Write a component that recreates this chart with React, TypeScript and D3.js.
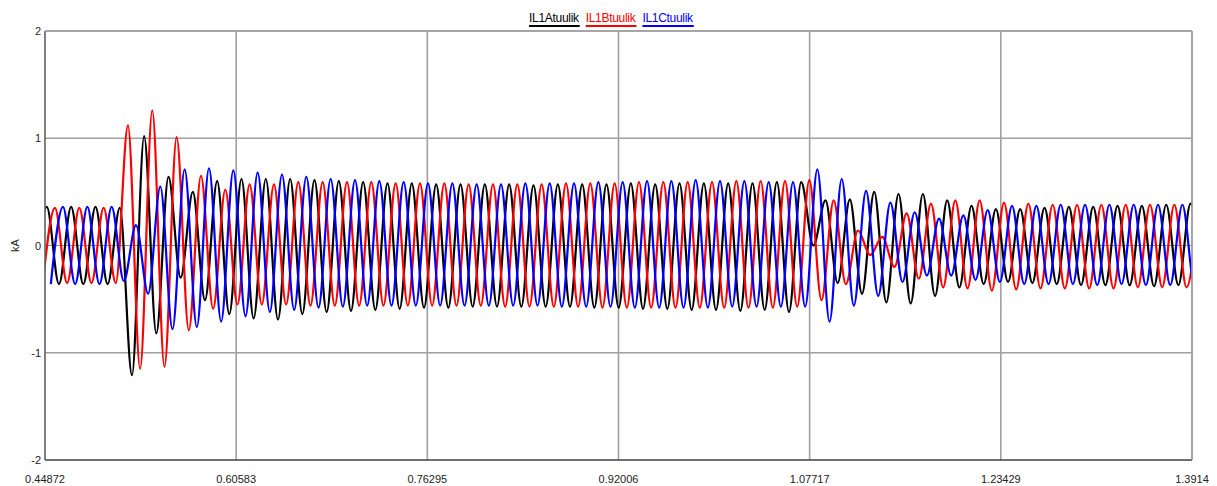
import * as React from 'react';
import * as d3 from 'd3';

// time axis ticks (s)
const X_TICKS = [0.44872, 0.60583, 0.76295, 0.92006, 1.07717, 1.23429, 1.3914];
const X_TICK_LABELS = ['0.44872', '0.60583', '0.76295', '0.92006', '1.07717', '1.23429', '1.3914'];
const Y_TICKS = [-2, -1, 0, 1, 2];
const Y_TICK_LABELS = ['-2', '-1', '0', '1', '2'];

const SERIES_NAMES = ['IL1Atuulik', 'IL1Btuulik', 'IL1Ctuulik'];
const SERIES_COLORS = ['#000000', '#ff0000', '#0000ff'];

// waveform extrema (kA), one value every half cycle (50 Hz), starting at START_TIMES
const HALF_PERIOD = 0.01;
const START_TIMES = [0.4402, 0.4469, 0.4535];

const phaseA = [-0.36,
    0.36, -0.36, 0.36, -0.36, 0.36, -0.36,
    0.35, -1.21, 1.02, -0.82, 0.64, -0.30,
    0.50, -0.51, 0.60, -0.64, 0.62, -0.68,
    0.62, -0.69, 0.62, -0.64, 0.61, -0.62,
    0.60, -0.61, 0.59, -0.60, 0.58, -0.59,
    0.58, -0.58, 0.57, -0.58, 0.57, -0.57,
    0.57, -0.57, 0.57, -0.57, 0.56, -0.57,
    0.57, -0.57, 0.57, -0.58, 0.57, -0.58,
    0.58, -0.59, 0.57, -0.59, 0.58, -0.60,
    0.58, -0.60, 0.58, -0.61, 0.58, -0.60,
    0.59, -0.62, 0.59, 0.00, 0.42, -0.35,
    0.43, -0.45, 0.50, -0.53, 0.48, -0.54,
    0.48, -0.47, 0.42, -0.39, 0.37, -0.36,
    0.34, -0.34, 0.34, -0.35, 0.35, -0.36,
    0.36, -0.37, 0.36, -0.37, 0.37, -0.37,
    0.37, -0.38, 0.38, -0.37, 0.39, -0.37];

const phaseB = [-0.35, 0.35, -0.35, 0.35, -0.35, 0.35,
    -0.35, 1.12, -1.15, 1.26, -1.13, 1.01,
    -0.79, 0.65, -0.59, 0.52, -0.55, 0.57,
    -0.55, 0.57, -0.55, 0.59, -0.56, 0.59,
    -0.56, 0.59, -0.56, 0.59, -0.56, 0.58,
    -0.56, 0.58, -0.56, 0.58, -0.56, 0.57,
    -0.56, 0.57, -0.57, 0.57, -0.57, 0.57,
    -0.57, 0.58, -0.57, 0.58, -0.58, 0.58,
    -0.58, 0.59, -0.58, 0.59, -0.58, 0.59,
    -0.58, 0.59, -0.58, 0.60, -0.58, 0.60,
    -0.58, 0.60, -0.57, 0.61, -0.51, 0.42,
    -0.36, 0.14, -0.09, 0.08, -0.20, 0.30,
    -0.31, 0.39, -0.39, 0.42, -0.40, 0.42,
    -0.42, 0.40, -0.41, 0.39, -0.40, 0.38,
    -0.40, 0.38, -0.40, 0.38, -0.40, 0.38,
    -0.39, 0.38, -0.39, 0.38, -0.39, 0.38];

const phaseC = [-0.36, 0.36, -0.36, 0.36, -0.36, 0.36,
    -0.33, 0.19, -0.45, 0.55, -0.78, 0.71,
    -0.76, 0.72, -0.71, 0.70, -0.66, 0.68,
    -0.62, 0.66, -0.60, 0.64, -0.58, 0.62,
    -0.57, 0.61, -0.56, 0.60, -0.56, 0.59,
    -0.56, 0.58, -0.56, 0.58, -0.56, 0.57,
    -0.56, 0.57, -0.56, 0.58, -0.56, 0.58,
    -0.57, 0.58, -0.57, 0.59, -0.57, 0.59,
    -0.58, 0.60, -0.58, 0.60, -0.58, 0.61,
    -0.58, 0.60, -0.57, 0.60, -0.57, 0.59,
    -0.57, 0.59, -0.57, 0.71, -0.71, 0.62,
    -0.56, 0.51, -0.47, 0.40, -0.34, 0.31,
    -0.28, 0.25, -0.28, 0.28, -0.32, 0.33,
    -0.34, 0.37, -0.36, 0.37, -0.36, 0.38,
    -0.36, 0.38, -0.37, 0.38, -0.36, 0.38,
    -0.37, 0.38, -0.37, 0.38, -0.37, 0.38];

const PHASES = [phaseA, phaseB, phaseC];

const FONT = '"Liberation Sans", Arial, sans-serif';

export default function App() {
    const ref = React.useRef<SVGSVGElement>(null);

    React.useEffect(() => {
        const width = 1217;
        const height = 486;
        const margin = { top: 31, right: 25, bottom: 26, left: 45 };

        const svg = d3.select(ref.current);
        svg.selectAll('*').remove();

        const x = d3.scaleLinear()
            .domain([X_TICKS[0], X_TICKS[X_TICKS.length - 1]])
            .range([margin.left, width - margin.right]);
        const y = d3.scaleLinear()
            .domain([-2, 2])
            .range([height - margin.bottom, margin.top]);

        svg.append('rect')
            .attr('width', width)
            .attr('height', height)
            .attr('fill', '#ffffff');

        // grid
        const grid = svg.append('g');
        grid.selectAll('.vgrid')
            .data(X_TICKS.slice(1))
            .enter()
            .append('line')
            .attr('x1', d => x(d))
            .attr('x2', d => x(d))
            .attr('y1', y(2))
            .attr('y2', y(-2))
            .attr('stroke', '#a0a0a0')
            .attr('stroke-width', 1.6);
        grid.selectAll('.hgrid')
            .data(Y_TICKS.filter(d => d !== 0 && d !== -2))
            .enter()
            .append('line')
            .attr('x1', x.range()[0])
            .attr('x2', x.range()[1])
            .attr('y1', d => y(d))
            .attr('y2', d => y(d))
            .attr('stroke', '#a0a0a0')
            .attr('stroke-width', 1.6);
        grid.append('line')
            .attr('x1', x.range()[0])
            .attr('x2', x.range()[1])
            .attr('y1', y(0))
            .attr('y2', y(0))
            .attr('stroke', '#909090')
            .attr('stroke-width', 1);

        // waveforms
        svg.append('clipPath')
            .attr('id', 'plot-clip')
            .append('rect')
            .attr('x', x.range()[0])
            .attr('y', y(2))
            .attr('width', x.range()[1] - x.range()[0])
            .attr('height', y(-2) - y(2));

        const line = d3.line<[number, number]>()
            .x(d => x(d[0]))
            .y(d => y(d[1]))
            .curve(d3.curveMonotoneX);

        const traces = svg.append('g').attr('clip-path', 'url(#plot-clip)');
        PHASES.forEach((values, p) => {
            const pts: [number, number][] = values.map((v, i) => [START_TIMES[p] + i * HALF_PERIOD, v]);
            traces.append('path')
                .datum(pts)
                .attr('d', line)
                .attr('fill', 'none')
                .attr('stroke', SERIES_COLORS[p])
                .attr('stroke-width', 2.2)
                .attr('stroke-linejoin', 'round');
        });

        // frame
        svg.append('line')
            .attr('x1', x.range()[0]).attr('x2', x.range()[1])
            .attr('y1', y(-2)).attr('y2', y(-2))
            .attr('stroke', '#404040').attr('stroke-width', 1.6);
        svg.append('line')
            .attr('x1', x.range()[0]).attr('x2', x.range()[0])
            .attr('y1', y(2)).attr('y2', y(-2))
            .attr('stroke', '#606060').attr('stroke-width', 1.6);
        svg.append('line')
            .attr('x1', x.range()[0]).attr('x2', x.range()[1])
            .attr('y1', y(2)).attr('y2', y(2))
            .attr('stroke', '#a0a0a0').attr('stroke-width', 1.6);
        svg.append('line')
            .attr('x1', x.range()[1]).attr('x2', x.range()[1])
            .attr('y1', y(2)).attr('y2', y(-2))
            .attr('stroke', '#a0a0a0').attr('stroke-width', 1.6);

        // axis labels
        svg.append('g')
            .selectAll('text')
            .data(Y_TICKS)
            .enter()
            .append('text')
            .attr('x', x.range()[0] - 4)
            .attr('y', d => y(d) + 4)
            .attr('text-anchor', 'end')
            .style('font-family', FONT)
            .style('font-size', '11px')
            .style('fill', '#222')
            .text((d, i) => Y_TICK_LABELS[i]);

        svg.append('g')
            .selectAll('text')
            .data(X_TICKS)
            .enter()
            .append('text')
            .attr('x', d => x(d))
            .attr('y', height - 3)
            .attr('text-anchor', 'middle')
            .style('font-family', FONT)
            .style('font-size', '11px')
            .style('fill', '#222')
            .text((d, i) => X_TICK_LABELS[i]);

        svg.append('text')
            .attr('transform', 'translate(19,' + y(0) + ') rotate(-90)')
            .attr('text-anchor', 'middle')
            .style('font-family', FONT)
            .style('font-size', '11px')
            .style('fill', '#222')
            .text('kA');

        // legend
        const legend = svg.append('g');
        let lx = 529;
        SERIES_NAMES.forEach((name, i) => {
            const t = legend.append('text')
                .attr('x', lx)
                .attr('y', 22)
                .style('font-family', FONT)
                .style('font-size', '12px')
                .style('letter-spacing', '-0.3px')
                .style('fill', SERIES_COLORS[i])
                .text(name);
            const w = (t.node() as SVGTextElement).getComputedTextLength();
            legend.append('line')
                .attr('x1', lx)
                .attr('x2', lx + w + 1)
                .attr('y1', 26)
                .attr('y2', 26)
                .attr('stroke', SERIES_COLORS[i])
                .attr('stroke-width', 2);
            lx += w + 7;
        });
    }, []);

    return (
        <svg ref={ref} width={1217} height={486}
            style={{ position: 'absolute', left: 0, top: 0, display: 'block' }} />
    );
}
